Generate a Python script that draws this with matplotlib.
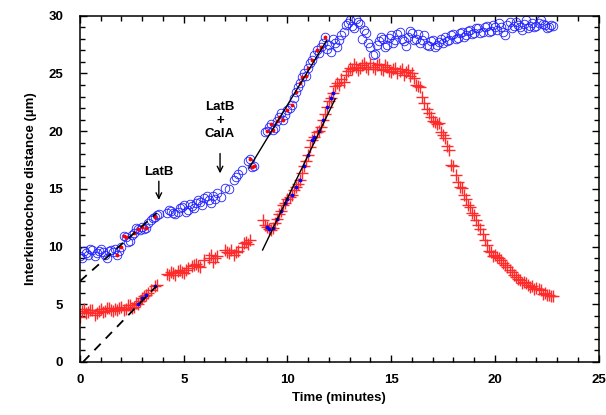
import numpy as np
import matplotlib.pyplot as plt
from matplotlib.ticker import MultipleLocator

plt.rcParams['font.family'] = ['Liberation Sans', 'DejaVu Sans']
plt.rcParams['font.weight'] = 'bold'

nan = np.nan
# time grid (minutes), 6 s sampling
t = np.round(np.arange(0, 22.85, 0.1), 1)

# upper kinetochore pair (blue circles)
upper = [9.2, 9.0, 9.6, 9.4, 9.3, 9.8, 9.7, 9.2, 9.4, 9.6,
         9.8, 9.5, 9.3, 9.0, 9.6, 9.7, 9.5, 9.8, 9.3, 9.6,
         10.0, 10.9, 10.8, 10.4, 10.5, 11.0, 11.2, 11.6, 11.5, 11.4,
         11.7, 11.5, 11.6, 12.0, 12.3, 12.5, 12.6, 12.7, 12.8, nan,
         nan, nan, 12.9, 13.2, 13.1, 12.9, 12.8, 13.0, 13.3, 13.4,
         13.6, 13.0, 13.2, 13.7, 13.5, 13.3, 13.8, 14.0, 13.9, 13.6,
         14.2, 14.4, 14.0, 13.8, 14.4, 14.1, 14.6, nan, 14.3, nan,
         15.1, nan, 15.0, nan, 15.8, 16.0, 16.3, nan, 16.6, nan,
         nan, 17.4, 17.6, 16.9, 17.0, nan, nan, nan, nan, 19.9,
         20.0, 20.4, 20.6, 20.1, 20.3, 20.9, 21.2, 21.6, 21.0, 21.4,
         21.8, 22.0, 22.3, 22.9, 23.4, 23.8, 24.2, 24.7, 25.0, 24.8,
         25.5, 25.9, 26.2, 26.6, 27.0, 26.8, 27.3, 27.6, 28.2, 27.1,
         27.5, 26.9, 28.0, 27.6, 27.3, 27.9, 28.3, 28.6, 29.2, 29.4,
         29.6, 29.1, 28.9, 29.7, 29.5, 29.3, 28.0, 28.8, 28.5, 27.6,
         27.3, 26.6, 26.7, 27.5, 27.8, 28.2, 28.0, 27.3, 27.5, 28.1,
         28.3, 27.6, 27.9, 28.4, 28.6, 28.0, 27.8, 27.4, 28.2, 28.7,
         28.5, 27.9, 28.0, 28.4, 27.6, 27.9, 28.3, 27.5, 27.4, 27.8,
         27.9, 27.3, 27.5, 27.7, 28.0, 27.6, 28.2, 27.8, 27.9, 28.3,
         28.4, 28.0, 28.1, 28.5, 28.6, 28.2, 28.3, 28.7, 28.8, 28.4,
         28.5, 28.9, 28.9, 28.5, 28.6, 29.0, 29.1, 28.6, 28.7, 29.2,
         29.0, 28.8, 29.4, 29.0, 28.6, 28.3, 29.2, 29.5, 28.9, 29.1,
         29.5, 29.2, 29.0, 28.8, 29.3, 29.6, 28.9, 29.1, 29.4, 29.0,
         29.1, 29.4, 29.6, 29.3, 29.2, 28.9, 29.0, 29.2, 29.1]

# lower kinetochore pair (red crosses)
lower = [3.9, 4.4, 4.6, 4.2, 4.3, 4.5, 4.5, 4.1, 4.2, 4.4,
         4.6, 4.3, 4.4, 4.7, 4.7, 4.5, 4.4, 4.6, 4.5, 4.7,
         4.8, 4.5, 4.6, 4.9, 4.9, 4.7, 4.8, 5.1, 5.0, 5.3,
         5.5, 5.7, 5.8, 6.0, 6.2, nan, 6.6, 6.7, nan, nan,
         nan, nan, 7.6, 7.5, 7.8, 7.7, 7.5, 7.9, 8.0, 7.8,
         7.7, 8.0, 8.1, nan, 8.3, 8.4, 8.5, 8.3, 8.2, nan,
         8.8, nan, 9.0, 9.3, 8.7, 9.0, 9.2, nan, nan, nan,
         9.7, 9.5, 9.4, 9.7, 9.3, 9.5, 9.6, nan, 10.0, 10.3,
         10.4, 10.2, 10.6, nan, nan, nan, nan, nan, 12.3, 11.9,
         11.7, 11.5, 11.4, 11.6, 12.0, 12.4, 12.8, 13.1, 13.6, 13.8,
         14.1, 14.3, 14.5, 14.9, 15.2, 15.4, 15.8, 16.4, 17.0, 17.4,
         17.9, 18.6, 19.2, 19.5, 19.9, 20.0, 20.4, 21.0, 21.5, 22.1,
         22.6, 22.9, 23.3, 23.9, 24.2, 24.0, 24.5, 24.3, 24.9, 25.2,
         25.5, 25.4, 25.8, 25.6, 25.3, 25.5, 25.7, 25.9, 25.6, 25.4,
         25.9, 25.6, 25.4, 25.7, 25.8, 25.4, 25.3, 25.7, 25.6, 25.2,
         25.1, 25.4, 25.5, 25.0, 25.2, 25.4, 24.9, 25.1, 25.3, 24.8,
         25.0, 24.6, 24.0, 23.9, 23.8, 23.0, 22.4, 21.9, 21.6, 21.2,
         20.9, 20.8, 20.6, 20.7, 19.9, 19.7, 19.4, 18.7, 18.4, 17.1,
         17.0, 16.2, 15.6, 15.2, 15.1, 14.5, 14.1, 13.6, 13.4, 12.9,
         12.7, 12.3, 11.9, 11.5, 11.1, 10.6, 10.1, 9.6, 9.5, 9.2,
         9.3, 9.1, 9.0, 8.8, 8.6, 8.4, 8.2, 8.0, 7.8, 7.5,
         7.4, 7.2, 7.1, 6.8, 6.9, 6.8, 6.7, 6.5, 6.6, 6.3,
         6.4, 6.3, 6.2, 5.9, 6.0, 5.8, 5.8, 5.7, 5.7]

# points used for the linear fits
upper_fit_t = [1.8, 2.0, 2.1, 2.2, 2.6, 2.8, 3.0, 3.2, 3.6,
               8.2, 8.3, 8.4, 9.0, 9.2, 9.3, 9.5, 9.6, 9.8, 10.0, 10.2, 10.4,
               10.6, 10.7, 10.9, 11.0, 11.2, 11.4, 11.6, 11.8]
lower_fit_t = [2.8, 3.0, 3.2, 3.6,
               9.0, 9.1, 9.3, 9.5, 9.7, 9.9, 10.0, 10.2, 10.4, 10.6, 10.8,
               11.0, 11.2, 11.3, 11.5, 11.7, 11.9, 12.1, 12.2]

# fit lines (endpoints)
dash_up_t, dash_up_y = [0.0, 3.7], [7.0, 12.9]
dash_lo_t, dash_lo_y = [0.15, 3.7], [0.0, 6.6]
solid_up_t, solid_up_y = [8.15, 11.9], [16.8, 27.9]
solid_lo_t, solid_lo_y = [8.8, 12.3], [9.7, 22.8]

upper = np.array(upper)
lower = np.array(lower)
up_mask = np.isin(t, upper_fit_t)
lo_mask = np.isin(t, lower_fit_t)

fig = plt.figure(figsize=(6.06, 4.15), dpi=100)
ax = fig.add_axes([0.132, 0.128, 0.856, 0.834])

ax.plot(t, upper, 'o', mfc='none', mec='#2020ff', ms=6.2, mew=0.6)
ax.plot(t, lower, '+', color='#ff2a2a', ms=8, mew=1.0)
ax.plot(t[up_mask], upper[up_mask], '.', color='red', ms=3.5)
ax.plot(t[lo_mask], lower[lo_mask], '.', color='blue', ms=3.5)

ax.plot(dash_up_t, dash_up_y, 'k--', lw=1.3, dashes=(5, 4))
ax.plot(dash_lo_t, dash_lo_y, 'k--', lw=1.3, dashes=(5, 4))
ax.plot(solid_up_t, solid_up_y, 'k-', lw=1.0)
ax.plot(solid_lo_t, solid_lo_y, 'k-', lw=1.0)

# drug additions
ax.annotate('', xy=(3.8, 13.8), xytext=(3.8, 15.9),
            arrowprops=dict(arrowstyle='->', color='black', lw=1.0))
ax.text(3.8, 16.5, 'LatB', ha='center', va='center', fontsize=9.5, fontweight='bold')
ax.annotate('', xy=(6.75, 16.1), xytext=(6.75, 18.3),
            arrowprops=dict(arrowstyle='->', color='black', lw=1.0))
ax.text(6.75, 20.9, 'LatB\n+\nCalA', ha='center', va='center', fontsize=9.5,
        fontweight='bold', linespacing=1.15)

ax.set_xlim(0, 25)
ax.set_ylim(0, 30)
ax.xaxis.set_major_locator(MultipleLocator(5))
ax.xaxis.set_minor_locator(MultipleLocator(1))
ax.yaxis.set_major_locator(MultipleLocator(5))
ax.yaxis.set_minor_locator(MultipleLocator(1))
ax.tick_params(which='both', direction='in', top=True, right=True, width=1.0)
ax.tick_params(which='major', length=5, labelsize=9.5)
ax.tick_params(axis='y', which='major', pad=12)
ax.tick_params(axis='x', which='major', pad=9)
ax.tick_params(which='minor', length=3.5)
for s in ax.spines.values():
    s.set_linewidth(1.1)

ax.set_xlabel('Time (minutes)', fontsize=9.5, fontweight='bold', labelpad=4)
ax.set_ylabel('Interkinetochore distance (\u00b5m)', fontsize=9.5, fontweight='bold', labelpad=8)

fig.savefig('out.png', dpi=100)
